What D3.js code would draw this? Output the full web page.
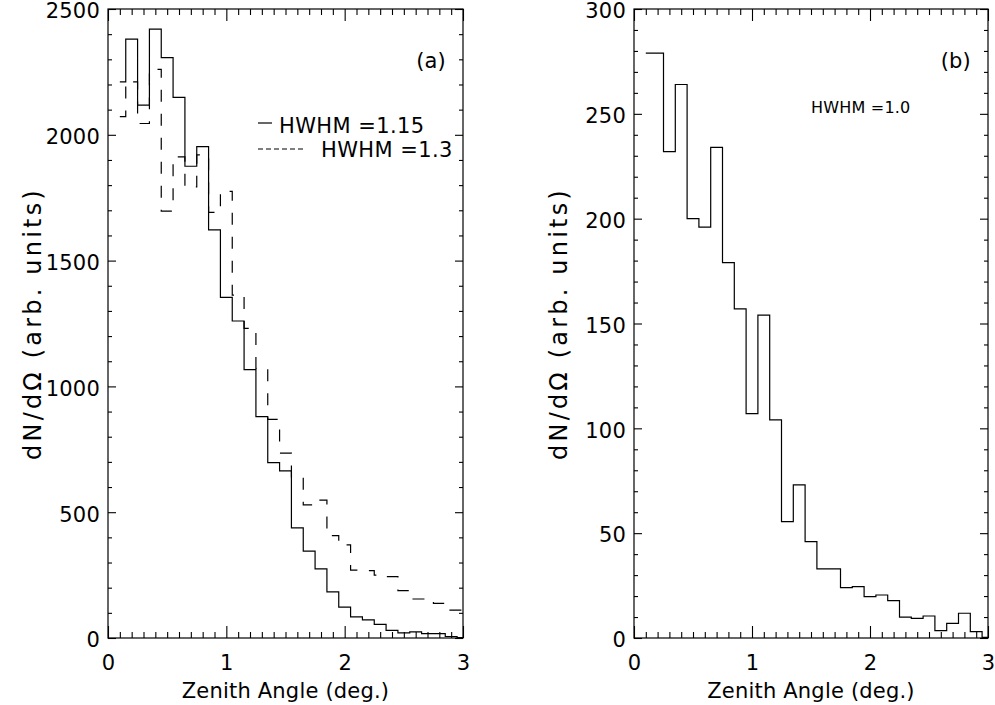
<!DOCTYPE html>
<html>
<head>
<meta charset="utf-8">
<script src="https://cdn.jsdelivr.net/npm/d3@7"></script>
<style>
  html, body { margin: 0; padding: 0; background: #fff; }
  svg { display: block; }
  text { font-family: "DejaVu Sans", "Liberation Sans", sans-serif; letter-spacing: 0.2px; }
</style>
</head>
<body>
<svg id="chart" width="995" height="705"></svg>
<script>
// ---------------- data ----------------
const angles = [0.1,0.2,0.3,0.4,0.5,0.6,0.7,0.8,0.9,1.0,
                1.1,1.2,1.3,1.4,1.5,1.6,1.7,1.8,1.9,2.0,
                2.1,2.2,2.3,2.4,2.5,2.6,2.7,2.8,2.9,3.0];

// panel (a), HWHM = 1.15 (solid)
const hwhm115 = [2210,2380,2118,2420,2307,2149,1875,1953,1622,1354,
                 1260,1067, 880, 697, 664, 438, 345, 275, 183, 123,
                   84,  72,  54,  30,  20,  24,  17,  17,   6,   2];
// panel (a), HWHM = 1.3 (dashed)
const hwhm13  = [2072,2210,2045,2260,1697,1912,1793,1920,1692,1775,
                 1363,1231,1072, 869, 735, 640, 529, 548, 407, 370,
                  270, 268, 250, 244, 188, 155, 155, 138, 111, 111];
// panel (b), HWHM = 1.0
const hwhm10  = [279,279,232,264,200,196,234,179,157,107,
                 154,104,55.5,73,46,33,33,24,24.5,19.7,
                 20.5,17.8,10,9.4,10.5,3.5,7,11.8,3,0.3];

const xMajorTicks = [0,1,2,3];
const yTicksA = [0,500,1000,1500,2000,2500];
const yTicksB = [0,50,100,150,200,250,300];

const xTitle = "Zenith Angle (deg.)";
const yTitle = "dN/dΩ (arb. units)";

// ---------------- layout ----------------
const svg = d3.select("#chart");
const FONT = 21;
const plotTop = 9, plotBottom = 638;

const panels = [
  { left: 108, right: 463, yMax: 2500, yMajor: yTicksA, yMinorStep: 100,
    series: [{ v: hwhm115, dash: null }, { v: hwhm13, dash: "12,12" }],
    tag: "(a)", yTitleX: 41 },
  { left: 634, right: 988, yMax: 300, yMajor: yTicksB, yMinorStep: 10,
    series: [{ v: hwhm10, dash: null }],
    tag: "(b)", yTitleX: 567 }
];

function styleAxis(g) {
  g.select(".domain").remove();
  g.selectAll("line").attr("stroke", "#000").attr("stroke-width", 1.1);
  g.attr("font-family", null).attr("font-size", FONT);
  g.selectAll("text").attr("fill", "#000");
}

panels.forEach(p => {
  const x = d3.scaleLinear().domain([0, 3]).range([p.left, p.right]);
  const y = d3.scaleLinear().domain([0, p.yMax]).range([plotBottom, plotTop]);
  const g = svg.append("g");

  const xMinor = d3.range(0, 31, 1).map(d => d / 10).filter(d => !xMajorTicks.includes(d));
  const yMinor = d3.range(0, p.yMax + 0.1, p.yMinorStep).filter(d => !p.yMajor.includes(d));

  // bottom axis
  g.append("g").attr("transform", `translate(0,${plotBottom})`)
    .call(d3.axisBottom(x).tickValues(xMajorTicks).tickSize(-12).tickPadding(17).tickFormat(d3.format("d")))
    .call(styleAxis);
  g.append("g").attr("transform", `translate(0,${plotBottom})`)
    .call(d3.axisBottom(x).tickValues(xMinor).tickSize(-6).tickFormat(""))
    .call(styleAxis);
  // top axis
  g.append("g").attr("transform", `translate(0,${plotTop})`)
    .call(d3.axisTop(x).tickValues(xMajorTicks).tickSize(-12).tickFormat(""))
    .call(styleAxis);
  g.append("g").attr("transform", `translate(0,${plotTop})`)
    .call(d3.axisTop(x).tickValues(xMinor).tickSize(-6).tickFormat(""))
    .call(styleAxis);
  // left axis
  const yl = g.append("g").attr("transform", `translate(${p.left},0)`)
    .call(d3.axisLeft(y).tickValues(p.yMajor).tickSize(-8).tickPadding(8).tickFormat(d3.format("d")))
    .call(styleAxis);
  yl.selectAll("text").attr("dy", "0.42em");
  g.append("g").attr("transform", `translate(${p.left},0)`)
    .call(d3.axisLeft(y).tickValues(yMinor).tickSize(-4).tickFormat(""))
    .call(styleAxis);
  // right axis
  g.append("g").attr("transform", `translate(${p.right},0)`)
    .call(d3.axisRight(y).tickValues(p.yMajor).tickSize(-8).tickFormat(""))
    .call(styleAxis);
  g.append("g").attr("transform", `translate(${p.right},0)`)
    .call(d3.axisRight(y).tickValues(yMinor).tickSize(-4).tickFormat(""))
    .call(styleAxis);

  // frame
  g.append("rect")
    .attr("x", p.left).attr("y", plotTop)
    .attr("width", p.right - p.left).attr("height", plotBottom - plotTop)
    .attr("fill", "none").attr("stroke", "#000").attr("stroke-width", 1.2);

  // histograms
  const line = d3.line().x((d, i) => x(angles[i])).y(d => y(d)).curve(d3.curveStep);
  p.series.forEach(s => {
    g.append("path").datum(s.v)
      .attr("d", line)
      .attr("fill", "none").attr("stroke", "#000").attr("stroke-width", 1.2)
      .attr("stroke-dasharray", s.dash);
  });

  // titles
  g.append("text")
    .attr("x", (p.left + p.right) / 2).attr("y", 698)
    .attr("text-anchor", "middle").attr("font-size", FONT)
    .text(xTitle);
  g.append("text")
    .attr("transform", `translate(${p.yTitleX},${(plotTop + plotBottom) / 2}) rotate(-90)`)
    .attr("text-anchor", "middle").attr("font-size", 24)
    .style("letter-spacing", "3.2px")
    .text(yTitle);

  // panel tag
  g.append("text")
    .attr("x", p.right - 17).attr("y", 68)
    .attr("text-anchor", "end").attr("font-size", FONT)
    .text(p.tag);
});

// legend / annotations
const ann = svg.append("g").attr("font-size", FONT);
ann.append("line").attr("x1", 258).attr("x2", 272).attr("y1", 123).attr("y2", 123)
  .attr("stroke", "#000").attr("stroke-width", 1.2);
ann.append("text").attr("x", 279).attr("y", 133).style("letter-spacing", "0.4px").text("HWHM =1.15");
ann.append("line").attr("x1", 258).attr("x2", 306).attr("y1", 149).attr("y2", 149)
  .attr("stroke", "#000").attr("stroke-width", 1.2).attr("stroke-dasharray", "5,3");
ann.append("text").attr("x", 321).attr("y", 157).style("letter-spacing", "0.4px").text("HWHM =1.3");
ann.append("text").attr("x", 811).attr("y", 113).attr("font-size", 16).text("HWHM =1.0");
</script>
</body>
</html>
